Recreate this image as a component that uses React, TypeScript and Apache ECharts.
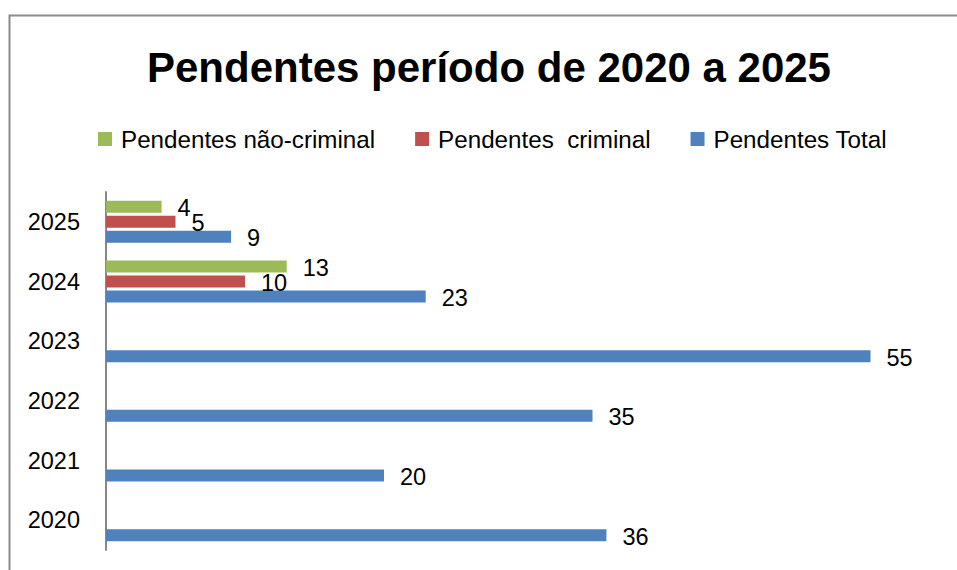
import React, { useEffect, useRef } from "react";
import * as echarts from "echarts";

const years = ["2020", "2021", "2022", "2023", "2024", "2025"];
const totalValues = [36, 20, 35, 55, 23, 9];
const criminalValues = [null, null, null, null, 10, 5];
const naoCriminalValues = [null, null, null, null, 13, 4];
const seriesNames = ["Pendentes não-criminal", "Pendentes  criminal", "Pendentes Total"];
const titleText = "Pendentes período de 2020 a 2025";

const FONT = "'Liberation Sans', Arial, sans-serif";

export default function App() {
  const ref = useRef<HTMLDivElement>(null);
  useEffect(() => {
    if (!ref.current) return;
    const chart = echarts.init(ref.current, null, { renderer: "svg" });
    const label = {
      show: true,
      position: "right" as const,
      distance: 16,
      offset: [0, 1.5],
      fontSize: 23.5,
      fontFamily: FONT,
      color: "#000",
    };
    chart.setOption({
      animation: false,
      backgroundColor: "#fff",
      title: {
        text: titleText,
        left: 147,
        top: 46,
        padding: 0,
        textStyle: { fontFamily: FONT, fontWeight: "bold", fontSize: 42, color: "#000" },
      },
      legend: {
        data: seriesNames,
        left: 98,
        top: 127,
        padding: 0,
        itemGap: 40,
        itemWidth: 14,
        itemHeight: 14,
        icon: "rect",
        textStyle: { fontFamily: FONT, fontSize: 24.2, color: "#000", padding: [0, 0, 0, 4] },
      },
      grid: { left: 106, top: 192, width: 834, height: 358, containLabel: false },
      xAxis: {
        type: "value",
        min: 0,
        max: 60,
        show: false,
      },
      yAxis: {
        type: "category",
        data: years,
        axisLine: { show: true, lineStyle: { color: "#888", width: 2 } },
        axisTick: { show: false },
        axisLabel: { fontFamily: FONT, fontSize: 23.5, color: "#000", margin: 26 },
      },
      graphic: [
        {
          type: "rect",
          shape: { x: 9.5, y: 15.5, width: 1000, height: 700 },
          style: { fill: "none", stroke: "#8a8a8a", lineWidth: 2 },
          silent: true,
        },
      ],
      series: [
        {
          name: seriesNames[0],
          type: "bar",
          data: naoCriminalValues,
          barWidth: 12,
          barGap: "25%",
          itemStyle: { color: "#9BBB59" },
          label,
        },
        {
          name: seriesNames[1],
          type: "bar",
          data: criminalValues,
          barWidth: 12,
          barGap: "25%",
          itemStyle: { color: "#C0504D" },
          label,
        },
        {
          name: seriesNames[2],
          type: "bar",
          data: totalValues,
          barWidth: 12,
          barGap: "25%",
          itemStyle: { color: "#4F81BD" },
          label,
        },
      ],
    });
    return () => chart.dispose();
  }, []);
  return (
    <div
      ref={ref}
      style={{ position: "fixed", left: 0, top: 0, width: 957, height: 570 }}
    />
  );
}
